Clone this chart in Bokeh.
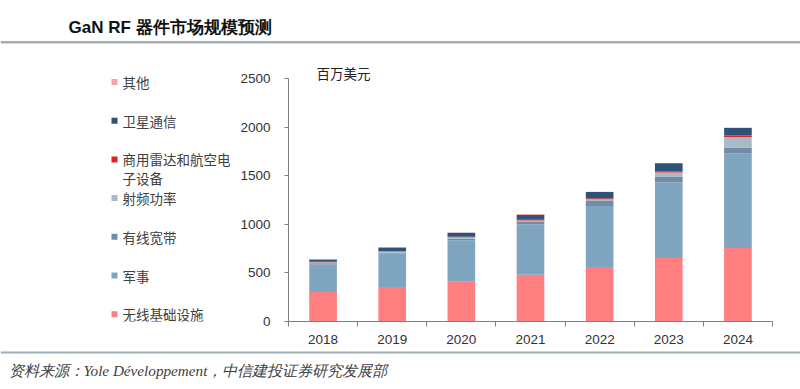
from bokeh.plotting import figure
from bokeh.models import (ColumnDataSource, FixedTicker, Range1d, CustomJSTickFormatter)
from bokeh.layouts import column, row
from bokeh.core.properties import value
from bokeh.embed import file_html
from bokeh.resources import INLINE

# ---------------- data (百万美元) ----------------
years = ["2018", "2019", "2020", "2021", "2022", "2023", "2024"]
wireless = [303, 355, 413, 482, 561, 654, 757]      # 无线基础设施
military = [286, 344, 424, 517, 627, 779, 975]      # 军事
wired = [10, 12, 15, 25, 52, 58, 58]                # 有线宽带
rfpower = [10, 8, 15, 15, 17, 41, 107]              # 射频功率
radar = [5, 5, 5, 8, 10, 10, 17]                    # 商用雷达和航空电子设备
satellite = [25, 38, 40, 50, 65, 86, 76]            # 卫星通信
others = [2, 2, 4, 8, 4, 1, 5]                      # 其他

series_keys = ["wireless", "military", "wired", "rfpower", "radar", "satellite", "others"]
legend_text = [["无线基础设施"], ["军事"], ["有线宽带"], ["射频功率"],
               ["商用雷达和航空电", "子设备"], ["卫星通信"], ["其他"]]
colors = ["#FF7E80", "#7FA5C1", "#6F8DA6", "#A9BAC6", "#D92229", "#2E5278", "#F5A6A8"]
y_ticks = [0, 500, 1000, 1500, 2000, 2500]
y_max = 2500

TITLE = "GaN RF 器件市场规模预测"
UNIT = "百万美元"
SOURCE = "资料来源：Yole Développement，中信建投证券研究发展部"

CJK = "Noto Sans CJK SC"
RULE = "#A8AFB4"

# page geometry (pixels)
ROW_TOP, ROW_BOTTOM = 50, 350       # middle row band
PLOT_TOP_PX = 78                    # pixel row of the y_max tick
FRAME_BOTTOM = 321                  # x axis line
FRAME_LEFT = 288                    # y axis line
LEG_W = 236
FRAME_RIGHT = 772


def blank(w, h, x0, x1, y_top, y_bottom, **kw):
    f = figure(width=w, height=h, x_range=Range1d(x0, x1), y_range=Range1d(y_bottom, y_top),
               x_axis_location=None, y_axis_location=None, output_backend="svg",
               toolbar_location=None, **kw)
    f.outline_line_color = None
    f.grid.visible = False
    f.background_fill_color = "white"
    f.border_fill_color = "white"
    return f


# ---------------- header ----------------
header = blank(800, ROW_TOP, 0, 800, 0, ROW_TOP, min_border=0)
header.text(x=[68], y=[27], text=[TITLE], text_font=value("Liberation Sans"),
            text_font_style="bold", text_font_size=value("17px"), text_color="#111111",
            text_baseline="middle")
header.quad(left=[0], right=[800], top=[40.5], bottom=[43], color=RULE, line_color=None)

# ---------------- legend (pixel coordinates of the page) ----------------
leg = blank(LEG_W, ROW_BOTTOM - ROW_TOP, 0, LEG_W, ROW_TOP, FRAME_BOTTOM,
            min_border_left=0, min_border_right=0, min_border_top=0,
            min_border_bottom=ROW_BOTTOM - FRAME_BOTTOM)
row_top, row_step = 81.5, 38.7
sq_x, sq_y, sq_c = [], [], []
tx, ty, tt = [], [], []
for r, idx in enumerate(reversed(range(len(series_keys)))):
    cy = row_top + r * row_step
    sq_x.append(114)
    sq_y.append(cy)
    sq_c.append(colors[idx])
    for k, t in enumerate(legend_text[idx]):
        tx.append(122)
        ty.append(cy + 19 * k)
        tt.append(t)
leg.rect(x=sq_x, y=sq_y, width=6, height=6, color=sq_c, line_color=None)
leg.text(x=tx, y=ty, text=tt, text_font=value(CJK), text_font_size=value("13.5px"),
         text_color="#404040", text_baseline="middle")

# ---------------- main chart ----------------
source = ColumnDataSource(dict(
    x=[i + 0.5 for i in range(len(years))],
    wireless=wireless, military=military, wired=wired, rfpower=rfpower,
    radar=radar, satellite=satellite, others=others,
))

# frame spans ROW_TOP..FRAME_BOTTOM; y_max sits at PLOT_TOP_PX
y_top = y_max * (FRAME_BOTTOM - ROW_TOP) / (FRAME_BOTTOM - PLOT_TOP_PX)

p = figure(width=800 - LEG_W, height=ROW_BOTTOM - ROW_TOP,
           x_range=Range1d(0, len(years)), y_range=Range1d(0, y_top),
           output_backend="svg", toolbar_location=None,
           min_border_left=FRAME_LEFT - LEG_W, min_border_right=800 - FRAME_RIGHT,
           min_border_top=0, min_border_bottom=ROW_BOTTOM - FRAME_BOTTOM)
p.title.visible = False
p.outline_line_color = None
p.xgrid.visible = False
p.ygrid.visible = False
p.background_fill_color = "white"
p.border_fill_color = "white"
p.extra_x_ranges = {"px": Range1d(FRAME_LEFT, FRAME_RIGHT)}
p.extra_y_ranges = {"px": Range1d(FRAME_BOTTOM, ROW_TOP)}

p.vbar_stack(series_keys, x="x", width=0.4, color=colors, line_color=None, source=source)

p.text(x=[316], y=[72], text=[UNIT], x_range_name="px", y_range_name="px",
       text_font=value(CJK), text_font_size=value("13.5px"), text_color="#222222",
       text_baseline="middle")

ax = p.xaxis[0]
ax.ticker = FixedTicker(ticks=[i + 0.5 for i in range(len(years))],
                        minor_ticks=list(range(len(years) + 1)))
ax.formatter = CustomJSTickFormatter(args=dict(years=years),
                                     code="return years[Math.floor(tick)] || ''")
ax.major_tick_out = 0
ax.major_tick_in = 0
ax.minor_tick_out = 5
ax.minor_tick_in = 0
ax.minor_tick_line_color = "#7f7f7f"
ax.axis_line_color = "#7f7f7f"
ax.major_label_text_font = "Liberation Sans"
ax.major_label_text_font_size = "13.5px"
ax.major_label_text_color = "#333333"
ax.major_label_standoff = 8

ay = p.yaxis[0]
ay.bounds = (0, y_max)
ay.ticker = FixedTicker(ticks=y_ticks)
ay.major_tick_out = 4
ay.major_tick_in = 0
ay.minor_tick_line_color = None
ay.major_tick_line_color = "#7f7f7f"
ay.axis_line_color = "#7f7f7f"
ay.major_label_text_font = "Liberation Sans"
ay.major_label_text_font_size = "13.5px"
ay.major_label_text_color = "#333333"
ay.major_label_standoff = 14

# ---------------- footer ----------------
footer = blank(800, 389 - ROW_BOTTOM, 0, 800, ROW_BOTTOM, 389, min_border=0)
footer.quad(left=[0], right=[800], top=[351], bottom=[353], color="#9FAEB4", line_color=None)
footer.text(x=[8], y=[370], text=[SOURCE], text_font=value("Liberation Serif"),
            text_font_style="italic", text_font_size=value("15.2px"), text_color="#404040",
            text_baseline="middle")

layout = column(header, row(leg, p, spacing=0), footer, spacing=0)
open("out.html", "w").write(file_html(layout, INLINE))
